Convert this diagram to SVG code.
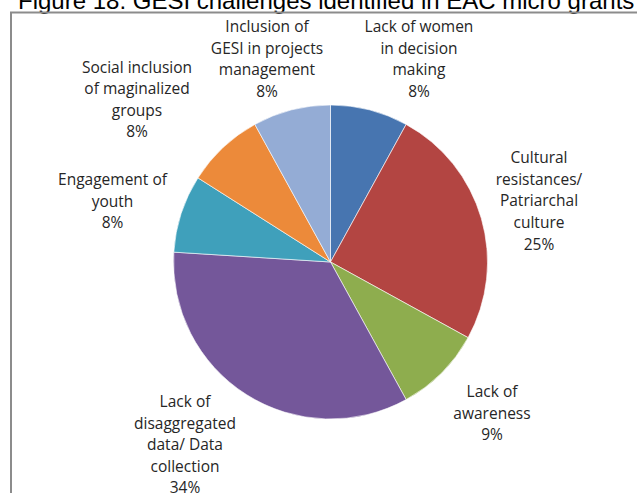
<svg xmlns="http://www.w3.org/2000/svg" width="637" height="493" viewBox="0 0 637 493">
<style>
.lbl{font-family:"Open Sans","DejaVu Sans",sans-serif;font-size:15.5px;fill:#262626;text-anchor:middle}
.title{font-family:"Liberation Sans",Arial,sans-serif;font-size:24px;fill:#000}
.sl{stroke:#ffffff;stroke-width:0.6;stroke-linejoin:round}
</style>
<rect x="0" y="0" width="637" height="493" fill="#ffffff"/>
<text class="title" x="18" y="9">Figure 18: GESI challenges identified in EAC micro grants</text>
<rect x="11" y="12.5" width="700" height="600" fill="none" stroke="#8c8c8c" stroke-width="2"/>
<g id="pie">
<g id="s1"><path class="sl" fill="#4775B0" d="M330.5,262 L330.5,105 A157,157 0 0,1 406.14,124.42 Z"/></g>
<g id="s2"><path class="sl" fill="#B34542" d="M330.5,262 L406.14,124.42 A157,157 0 0,1 468.08,337.64 Z"/></g>
<g id="s3"><path class="sl" fill="#8EAD4E" d="M330.5,262 L468.08,337.64 A157,157 0 0,1 406.14,399.58 Z"/></g>
<g id="s4"><path class="sl" fill="#74579A" d="M330.5,262 L406.14,399.58 A157,157 0 0,1 173.81,252.14 Z"/></g>
<g id="s5"><path class="sl" fill="#3FA0BB" d="M330.5,262 L173.81,252.14 A157,157 0 0,1 197.95,177.88 Z"/></g>
<g id="s6"><path class="sl" fill="#EC8A3A" d="M330.5,262 L197.95,177.88 A157,157 0 0,1 254.86,124.42 Z"/></g>
<g id="s7"><path class="sl" fill="#94ACD5" d="M330.5,262 L254.86,124.42 A157,157 0 0,1 330.5,105 Z"/></g>
</g>
<g id="labels">
<g id="l1"><text class="lbl"><tspan x="419" y="32">Lack of women</tspan><tspan x="419" y="53.5">in decision</tspan><tspan x="419" y="75">making</tspan><tspan x="419" y="97">8%</tspan></text></g>
<g id="l2"><text class="lbl"><tspan x="539" y="163">Cultural</tspan><tspan x="539" y="184.5">resistances/</tspan><tspan x="539" y="206">Patriarchal</tspan><tspan x="539" y="228">culture</tspan><tspan x="539" y="250">25%</tspan></text></g>
<g id="l3"><text class="lbl"><tspan x="492" y="397">Lack of</tspan><tspan x="492" y="418.5">awareness</tspan><tspan x="492" y="440">9%</tspan></text></g>
<g id="l4"><text class="lbl"><tspan x="185" y="407">Lack of</tspan><tspan x="185" y="428.5">disaggregated</tspan><tspan x="185" y="450">data/ Data</tspan><tspan x="185" y="471.5">collection</tspan><tspan x="185" y="493">34%</tspan></text></g>
<g id="l5"><text class="lbl"><tspan x="112.5" y="185">Engagement of</tspan><tspan x="112.5" y="206.5">youth</tspan><tspan x="112.5" y="228">8%</tspan></text></g>
<g id="l6"><text class="lbl"><tspan x="137" y="72.5">Social inclusion</tspan><tspan x="137" y="94">of maginalized</tspan><tspan x="137" y="115.5">groups</tspan><tspan x="137" y="137">8%</tspan></text></g>
<g id="l7"><text class="lbl"><tspan x="267" y="32">Inclusion of</tspan><tspan x="267" y="53.5">GESI in projects</tspan><tspan x="267" y="75">management</tspan><tspan x="267" y="97">8%</tspan></text></g>
</g>
</svg>
